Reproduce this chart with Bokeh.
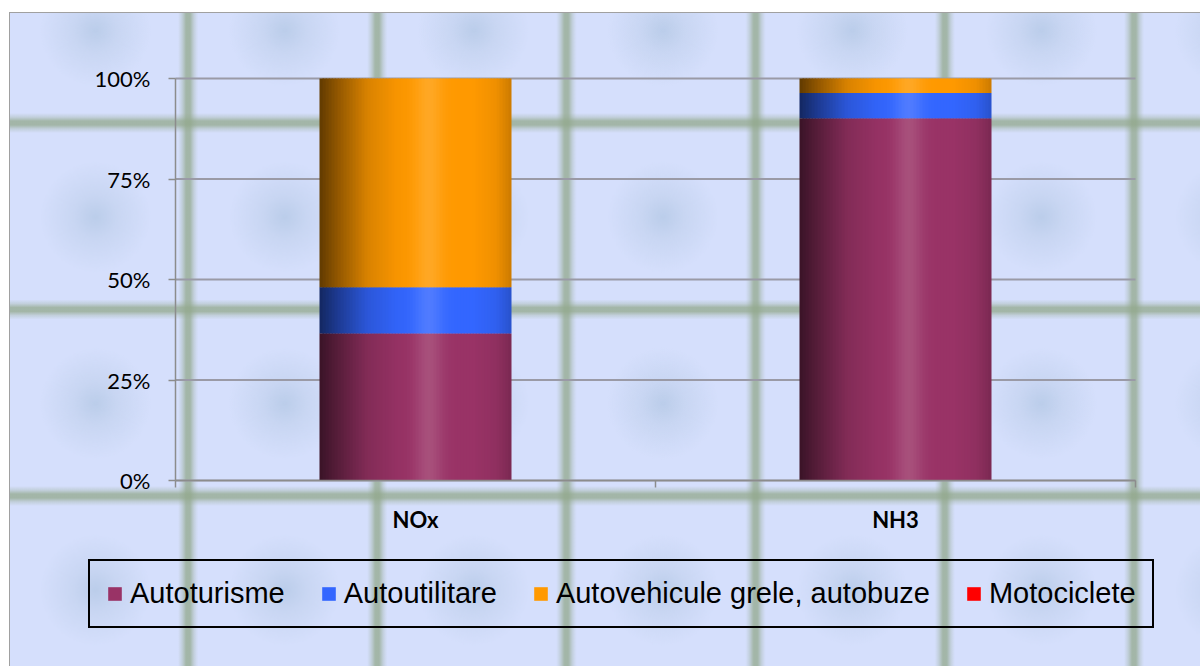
import numpy as np
from bokeh.plotting import figure
from bokeh.models import (Range1d, FixedTicker, NumeralTickFormatter, Legend,
                          LegendItem, ColumnDataSource)
from bokeh.embed import file_html
from bokeh.resources import INLINE

# ---------------- data ----------------
categories = ["NOx", "NH3"]
series_names = ["Autoturisme", "Autoutilitare", "Autovehicule grele, autobuze", "Motociclete"]
autoturisme = [0.366, 0.901]
autoutilitare = [0.115, 0.063]
autovehicule_grele = [0.519, 0.036]
motociclete = [0.0, 0.0]
y_ticks = [0, 0.25, 0.5, 0.75, 1.0]

series_values = [autoturisme, autoutilitare, autovehicule_grele, motociclete]
base_colors = [(153, 51, 102), (51, 102, 255), (255, 153, 0), (255, 0, 0)]

# ---------------- layout (pixels) ----------------
W, H = 1200, 666
PLOT_L, PLOT_R, PLOT_T, PLOT_B = 175, 1135, 78, 480
ppx = (PLOT_R - PLOT_L) / len(categories)   # px per category
ppy = (PLOT_B - PLOT_T) / 1.0               # px per 100%

x_range = Range1d(-PLOT_L / ppx, (W - PLOT_L) / ppx)
y_range = Range1d(-(H - PLOT_B) / ppy, PLOT_B / ppy)

p = figure(width=W, height=H, x_range=x_range, y_range=y_range,
           output_backend="svg", toolbar_location=None, min_border=0)
p.background_fill_alpha = 0
p.border_fill_alpha = 0
p.outline_line_color = None

def line_grad(direction, c):
    return ("linear-gradient(%s, rgba(146,168,140,0) %.2fpx, rgba(146,168,140,0.28) %.2fpx, "
            "rgba(146,168,140,0.75) %.2fpx, rgba(146,168,140,0.75) %.2fpx, rgba(146,168,140,0.28) %.2fpx, "
            "rgba(146,168,140,0) %.2fpx)" % (direction, c - 10, c - 6, c - 2, c + 2, c + 6, c + 10))

bg_layers = [
    line_grad("to right", 94.6),
    line_grad("to bottom", 93.25),
    "radial-gradient(circle at 50% 50%, rgba(184,203,232,0.9) 0px, rgba(192,208,236,0.6) 22px, "
    "rgba(213,223,252,0) 56px)",
]
p.styles = {
    "background-color": "#D5DFFC",
    "background-image": ", ".join(bg_layers),
    "background-size": "189.2px 100%, 100% 186.5px, 189.2px 186.5px",
    "background-position": "93.4px 0px, 0px 29.75px, 0.8px 123.75px",
    "background-repeat": "repeat-x, repeat-y, repeat",
    "box-shadow": "inset 9px 12px 0 0 #ffffff, inset 10px 13px 0 0 #A0A0A0",
}

# ---------------- horizontal gridlines (at the tick values) ----------------
p.segment(x0=0, x1=len(categories), y0=y_ticks, y1=y_ticks,
          line_color="#9A9AA6", line_width=2)

# ---------------- bars with cylinder-like shading ----------------
bar_frac = 0.4
n_slices = 64
knots_t = [0, 0.1, 0.25, 0.4, 0.5, 0.8, 0.92, 1.0]
knots_s = [0.38, 0.58, 0.85, 0.97, 1.0, 1.0, 0.94, 0.8]

def slice_color(base, t):
    s = np.interp(t, knots_t, knots_s)
    hl = 0.14 * np.exp(-((t - 0.57) / 0.07) ** 2)
    c = [min(255.0, b * s) for b in base]
    c = [v + (255 - v) * hl for v in c]
    return "#%02x%02x%02x" % tuple(int(round(v)) for v in c)

cum = np.zeros(len(categories))
renderers = []
for name, vals, base in zip(series_names, series_values, base_colors):
    vals = np.array(vals, dtype=float)
    left, right, bottom, top, color = [], [], [], [], []
    for i in range(len(categories)):
        x0 = i + 0.5 - bar_frac / 2
        dw = bar_frac / n_slices
        for k in range(n_slices):
            t = (k + 0.5) / n_slices
            l = x0 + k * dw
            r = l + dw * (1.6 if k < n_slices - 1 else 1.0)
            left.append(l); right.append(r)
            bottom.append(cum[i]); top.append(cum[i] + vals[i])
            color.append(slice_color(base, t))
    cum = cum + vals
    src = ColumnDataSource(dict(left=left, right=right, bottom=bottom, top=top, color=color))
    r = p.quad(left="left", right="right", bottom="bottom", top="top", fill_color="color",
               line_color=None, source=src)
    renderers.append(r)

# ---------------- axes ----------------
ax_col = "#8C8C8C"
p.yaxis.fixed_location = 0
p.yaxis.bounds = (0, 1)
p.yaxis.ticker = FixedTicker(ticks=y_ticks)
p.yaxis.formatter = NumeralTickFormatter(format="0%")
p.yaxis.major_label_text_font = "Lato"
p.yaxis.major_label_text_font_size = "22px"
p.yaxis.major_label_text_color = "black"
p.yaxis.major_tick_out = 7
p.yaxis.major_tick_in = 0
p.yaxis.minor_tick_out = 0
p.yaxis.minor_tick_in = 0
p.yaxis.major_label_standoff = 18
p.yaxis.axis_line_color = ax_col
p.yaxis.axis_line_width = 1.5
p.yaxis.major_tick_line_color = ax_col
p.yaxis.major_tick_line_width = 1.5

p.xaxis.fixed_location = 0
p.xaxis.bounds = (0, len(categories))
p.xaxis.ticker = FixedTicker(ticks=[i + 0.5 for i in range(len(categories))],
                             minor_ticks=[i for i in range(len(categories) + 1)])
p.xaxis.major_label_overrides = {i + 0.5: c for i, c in enumerate(categories)}
p.xaxis.major_label_text_font = "Lato"
p.xaxis.major_label_text_font_style = "bold"
p.xaxis.major_label_text_font_size = "22px"
p.xaxis.major_label_text_color = "black"
p.xaxis.major_tick_out = 0
p.xaxis.major_tick_in = 0
p.xaxis.minor_tick_out = 7
p.xaxis.minor_tick_in = 0
p.xaxis.minor_tick_line_color = ax_col
p.xaxis.minor_tick_line_width = 1.5
p.xaxis.major_label_standoff = 18
p.xaxis.axis_line_color = ax_col
p.xaxis.axis_line_width = 1.5

p.xgrid.visible = False
p.ygrid.visible = False

# ---------------- legend ----------------
leg_idx = int(0.75 * n_slices)
legend = Legend(items=[LegendItem(label=n, renderers=[r], index=leg_idx)
                       for n, r in zip(series_names, renderers)],
                orientation="horizontal", location=(88, H - 628))
legend.ncols = len(series_names)
legend.label_text_font = "Liberation Sans"
legend.label_text_font_size = "29px"
legend.label_text_color = "black"
legend.glyph_width = 17
legend.glyph_height = 17
legend.label_standoff = 7
legend.spacing = 35
legend.padding = 16
legend.margin = 0
legend.border_line_color = "black"
legend.border_line_alpha = 1.0
legend.border_line_width = 2
legend.background_fill_alpha = 0
p.add_layout(legend, "center")

open("out.html", "w").write(file_html(p, INLINE))
